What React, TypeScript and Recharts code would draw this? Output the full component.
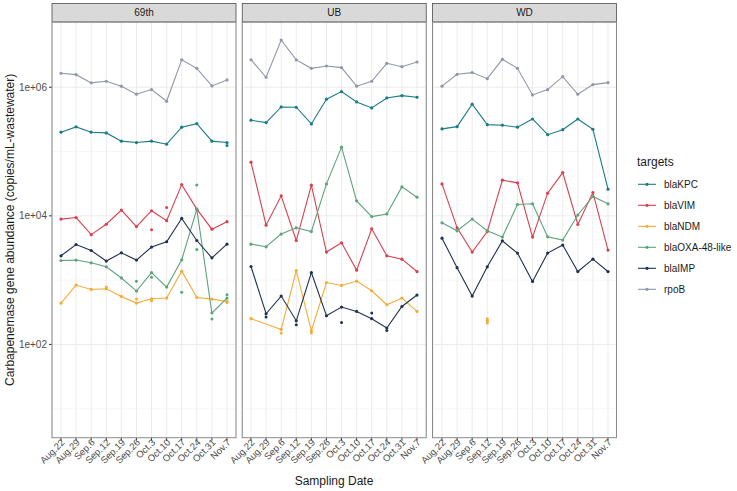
import React from "react"
import { LineChart, Line, XAxis, YAxis, CartesianGrid } from "recharts"

const font = "'Liberation Sans', Arial, sans-serif"

const dates = ["Aug.22", "Aug.29", "Sep.6", "Sep.12", "Sep.19", "Sep.26", "Oct.3", "Oct.10", "Oct.17", "Oct.24", "Oct.31", "Nov.7"]
const sites = ["69th", "UB", "WD"]
const targets = ["blaKPC", "blaVIM", "blaNDM", "blaOXA-48-like", "blaIMP", "rpoB"]
const targetColors = ["#1b7c85", "#d8404f", "#f4ab37", "#5ea37c", "#213250", "#9097a7"]
const yTicks = [1e2, 1e4, 1e6]
const yMinor = [1e1, 1e3, 1e5]
const yDomain = [3.54, 1.035e7]

type Series = Record<string, (number | null)[]>
type Rep = { date: string; target: string; value: number }

const site69th: Series = {
  blaKPC: [2.0e5, 2.42e5, 2.0e5, 1.95e5, 1.45e5, 1.38e5, 1.45e5, 1.3e5, 2.39e5, 2.72e5, 1.45e5, 1.38e5],
  blaVIM: [8.9e3, 9.4e3, 5.1e3, 7.4e3, 1.23e4, 6.8e3, 1.2e4, 8.4e3, 3.06e4, 1.27e4, 6.2e3, 8.1e3],
  blaNDM: [440, 837, 716, 734, 557, 440, 513, 526, 1380, 537, 507, 466],
  "blaOXA-48-like": [2020, 2050, 1860, 1610, 1080, 676, 1310, 780, 2070, 1.27e4, 308, 526],
  blaIMP: [2390, 3580, 2890, 1980, 2660, 2050, 3270, 3950, 9100, 4130, 2220, 3630],
  rpoB: [1.65e6, 1.57e6, 1.17e6, 1.24e6, 1.04e6, 7.8e5, 9.2e5, 6.05e5, 2.68e6, 1.97e6, 1.05e6, 1.3e6],
}

const siteUB: Series = {
  blaKPC: [3.07e5, 2.82e5, 4.94e5, 4.89e5, 2.69e5, 6.52e5, 8.55e5, 5.91e5, 4.77e5, 6.82e5, 7.4e5, 6.99e5],
  blaVIM: [6.83e4, 7160, 2.05e4, 4130, 3.0e4, 2730, 3800, 1430, 6280, 2390, 2120, 1360],
  blaNDM: [251, null, 171, 1410, 163, 918, 826, 966, 684, 414, 526, 326],
  "blaOXA-48-like": [3630, 3300, 5200, 6510, 5700, 3.14e4, 1.17e5, 1.71e4, 9750, 1.07e4, 2.82e4, 1.95e4],
  blaIMP: [1630, 300, 565, 233, 1310, 279, 381, 326, 251, 180, 389, 586],
  rpoB: [2.68e6, 1.43e6, 5.43e6, 2.66e6, 1.97e6, 2.14e6, 2.02e6, 1.04e6, 1.24e6, 2.36e6, 2.09e6, 2.47e6],
}

const siteWD: Series = {
  blaKPC: [2.25e5, 2.44e5, 5.45e5, 2.62e5, 2.57e5, 2.39e5, 3.21e5, 1.83e5, 2.19e5, 3.21e5, 2.22e5, 2.6e4],
  blaVIM: [3.14e4, 6510, 2730, 5700, 3.59e4, 3.26e4, 4670, 2.25e4, 4.71e4, 7330, 2.3e4, 2930],
  blaNDM: [null, null, null, 233, null, null, null, null, null, null, null, null],
  "blaOXA-48-like": [7780, 5850, 8890, 5850, 4670, 1.5e4, 1.54e4, 4720, 4190, 1.03e4, 2.0e4, 1.54e4],
  blaIMP: [4500, 1560, 565, 1610, 4080, 2630, 953, 2630, 3510, 1360, 2120, 1360],
  rpoB: [1.04e6, 1.59e6, 1.69e6, 1.36e6, 2.72e6, 1.97e6, 7.59e5, 9.18e5, 1.46e6, 7.78e5, 1.1e6, 1.18e6],
}

// single replicate measurements that sit off the mean line
const reps69th: Rep[] = [
  { date: "Nov.7", target: "blaKPC", value: 1.24e5 },
  { date: "Oct.3", target: "blaVIM", value: 6070 },
  { date: "Oct.10", target: "blaVIM", value: 1.35e4 },
  { date: "Sep.26", target: "blaOXA-48-like", value: 960 },
  { date: "Oct.3", target: "blaOXA-48-like", value: 1110 },
  { date: "Oct.17", target: "blaOXA-48-like", value: 650 },
  { date: "Oct.24", target: "blaOXA-48-like", value: 3.03e4 },
  { date: "Oct.24", target: "blaOXA-48-like", value: 3000 },
  { date: "Oct.31", target: "blaOXA-48-like", value: 248 },
  { date: "Nov.7", target: "blaOXA-48-like", value: 593 },
  { date: "Sep.12", target: "blaNDM", value: 780 },
  { date: "Sep.26", target: "blaNDM", value: 507 },
  { date: "Oct.3", target: "blaNDM", value: 477 },
  { date: "Nov.7", target: "blaNDM", value: 450 },
]

const repsUB: Rep[] = [
  { date: "Aug.29", target: "blaIMP", value: 267 },
  { date: "Sep.12", target: "blaIMP", value: 202 },
  { date: "Oct.3", target: "blaIMP", value: 220 },
  { date: "Oct.17", target: "blaIMP", value: 308 },
  { date: "Oct.24", target: "blaIMP", value: 165 },
  { date: "Sep.6", target: "blaNDM", value: 150 },
  { date: "Sep.19", target: "blaNDM", value: 150 },
]

const repsWD: Rep[] = [
  { date: "Sep.12", target: "blaNDM", value: 250 },
  { date: "Sep.12", target: "blaNDM", value: 215 },
]

const siteSeries = [site69th, siteUB, siteWD]
const siteReps = [reps69th, repsUB, repsWD]

function buildRows(series: Series, reps: Rep[]) {
  return dates.map((d, i) => {
    const row: any = { date: d }
    targets.forEach((t) => {
      row[t] = series[t][i]
    })
    reps
      .filter((r) => r.date === d)
      .forEach((r) => {
        let k = 1
        while (row[`${r.target}_r${k}`] != null) k++
        row[`${r.target}_r${k}`] = r.value
      })
    return row
  })
}

const fmtLog = (v: number) => "1e+" + String(Math.round(Math.log10(v))).padStart(2, "0")

const XTick = (props: any) => {
  const { x, y, payload } = props
  return (
    <g transform={`translate(${x + 2},${y - 2}) rotate(-45)`}>
      <text x={0} y={0} dy="0.35em" textAnchor="end" fontSize={9.5} fill="#4d4d4d" fontFamily={font}>
        {payload.value}
      </text>
    </g>
  )
}

const PANEL_W = 184
const PLOT_TOP = 22
const PLOT_BOTTOM = 437.7
const CHART_H = 491
const LEFT_ROOM = 52
const panelLefts = [52, 242.25, 432.5]

function Panel({ idx }: { idx: number }) {
  const rows = buildRows(siteSeries[idx], siteReps[idx])
  const first = idx === 0
  return (
    <div style={{ position: "absolute", left: panelLefts[idx] - LEFT_ROOM, top: 0 }}>
      <LineChart
        width={PANEL_W + LEFT_ROOM}
        height={CHART_H}
        data={rows}
        margin={{ top: PLOT_TOP, right: 0, bottom: 0, left: first ? 0 : LEFT_ROOM }}
      >
        <CartesianGrid horizontalValues={yMinor} vertical={false} stroke="#f2f2f2" strokeWidth={0.6} />
        <CartesianGrid horizontalValues={yTicks} stroke="#ebebeb" strokeWidth={1} />
        <XAxis
          dataKey="date"
          interval={0}
          padding={{ left: 9, right: 9 }}
          height={CHART_H - PLOT_BOTTOM}
          axisLine={false}
          tickSize={3}
          tickLine={{ stroke: "#333" }}
          tick={<XTick />}
        />
        <YAxis
          hide={!first}
          width={LEFT_ROOM}
          scale="log"
          domain={yDomain}
          allowDataOverflow
          ticks={yTicks}
          tickFormatter={fmtLog}
          axisLine={false}
          tickSize={3}
          tickLine={{ stroke: "#333" }}
          tick={{ fontSize: 10, fill: "#4d4d4d", fontFamily: font }}
        />
        {targets.map((t, i) => (
          <Line
            key={t}
            type="linear"
            dataKey={t}
            stroke={targetColors[i]}
            strokeWidth={1.1}
            dot={{ r: 1.6, fill: targetColors[i], stroke: targetColors[i], strokeWidth: 0 }}
            activeDot={false}
            connectNulls
            isAnimationActive={false}
          />
        ))}
        {targets.flatMap((t, i) =>
          [1, 2].map((k) => (
            <Line
              key={`${t}_r${k}`}
              dataKey={`${t}_r${k}`}
              stroke="none"
              dot={{ r: 1.5, fill: targetColors[i], stroke: targetColors[i], strokeWidth: 0 }}
              activeDot={false}
              isAnimationActive={false}
            />
          ))
        )}
      </LineChart>
    </div>
  )
}

export default function App() {
  return (
    <div style={{ position: "absolute", left: 0, top: 0, width: 737, height: 491, background: "#fff", fontFamily: font }}>
      {sites.map((s, i) => (
        <Panel key={s} idx={i} />
      ))}
      <svg width={737} height={491} style={{ position: "absolute", left: 0, top: 0, pointerEvents: "none" }}>
        {sites.map((s, i) => (
          <g key={s}>
            <rect x={panelLefts[i]} y={3.5} width={PANEL_W} height={PLOT_TOP - 3.5} fill="#d9d9d9" stroke="#4d4d4d" strokeWidth={0.8} />
            <text x={panelLefts[i] + PANEL_W / 2} y={16.3} textAnchor="middle" fontSize={10} fill="#1a1a1a" fontFamily={font}>
              {s}
            </text>
            <rect x={panelLefts[i]} y={PLOT_TOP} width={PANEL_W} height={PLOT_BOTTOM - PLOT_TOP} fill="none" stroke="#8a8a8a" strokeWidth={1} />
          </g>
        ))}
        <text
          x={0}
          y={0}
          transform={`translate(14,${(PLOT_TOP + PLOT_BOTTOM) / 2}) rotate(-90)`}
          textAnchor="middle"
          fontSize={12}
          fill="#1a1a1a"
          fontFamily={font}
        >
          Carbapenemase gene abundance (copies/mL-wastewater)
        </text>
        <text x={334} y={485} textAnchor="middle" fontSize={12} fill="#1a1a1a" fontFamily={font}>
          Sampling Date
        </text>
        <text x={637} y={166} fontSize={12} fill="#1a1a1a" fontFamily={font}>
          targets
        </text>
        {targets.map((t, i) => {
          const cy = 184.3 + i * 21
          return (
            <g key={t}>
              <line x1={638} x2={656} y1={cy} y2={cy} stroke={targetColors[i]} strokeWidth={1.1} />
              <circle cx={647} cy={cy} r={1.6} fill={targetColors[i]} />
              <text x={664} y={cy + 3.5} fontSize={10} fill="#1a1a1a" fontFamily={font}>
                {t}
              </text>
            </g>
          )
        })}
      </svg>
    </div>
  )
}
